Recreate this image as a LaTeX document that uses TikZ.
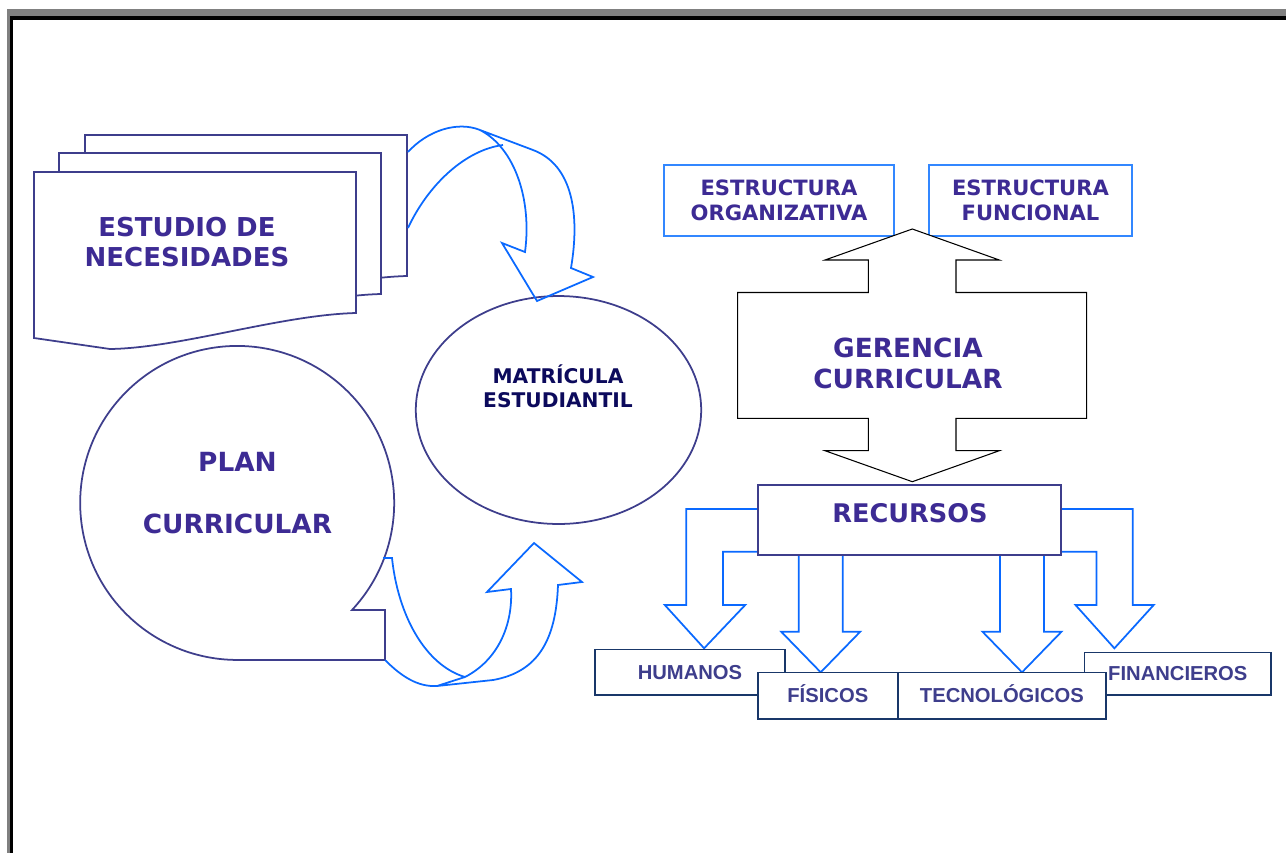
\documentclass[tikz,border=0pt]{standalone}
\usepackage{fontspec}
\setmainfont{DejaVu Sans}
\newfontfamily\arialfont{Liberation Sans}
\usetikzlibrary{shapes.geometric}

\definecolor{titlepurple}{RGB}{61,43,148}
\definecolor{navytext}{RGB}{12,10,92}
\definecolor{shapeline}{RGB}{62,62,140}
\definecolor{arrowblue}{RGB}{10,105,255}
\definecolor{boxblue}{RGB}{50,135,255}
\definecolor{lowline}{RGB}{25,55,105}
\definecolor{lowtext}{RGB}{62,62,140}
\definecolor{framegray}{RGB}{128,128,128}

\begin{document}
\begin{tikzpicture}[x=0.02cm, y=-0.02cm,
		page_style/.style={draw=shapeline, line width=1pt, fill=white},
		block_arrow/.style={draw=arrowblue, line width=1pt, line join=miter},
		fat_arrow/.style={draw=black, line width=0.6pt, fill=white},
		title_text/.style={font=\bfseries\fontsize{14.8}{17}\selectfont, text=titlepurple, align=center, inner sep=0pt},
		struct_box/.style={draw=boxblue, line width=1.1pt, fill=white, align=center, inner sep=0pt, text=titlepurple, font=\bfseries\fontsize{12}{14.7}\selectfont},
		res_box/.style={draw=lowline, line width=1pt, fill=white, inner sep=0pt, text=lowtext, font=\arialfont\bfseries\fontsize{11.5}{13}\selectfont, text height=8.2pt, text depth=0pt}]

		\useasboundingbox (0,0) rectangle (1286,853);

		\fill[framegray] (7,9) rectangle (1286,16);
		\fill[framegray] (7,9) rectangle (9.5,853);
		\fill[black] (9.5,16) rectangle (1286,20);
		\fill[black] (9.5,16) rectangle (13,853);

		\foreach \dx/\dy in {51/-37, 25/-19, 0/0}
			\draw[page_style, shift={(\dx,\dy)}] (34,172) -- (356,172) -- (356,313) .. controls (280,315) and (180,348) .. (110,349) -- (34,338) -- cycle;
		\node[title_text] (estudio) at (187,242) {ESTUDIO DE\\NECESIDADES};

		\node[draw=shapeline, line width=1pt, ellipse, minimum width=5.71cm, minimum height=4.56cm] (matricula_shape) at (558.5,410) {};
		\node[font=\bfseries\fontsize{11.5}{13.6}\selectfont, text=navytext, align=center, inner sep=0pt] (matricula) at (558,386) {MATRÍCULA\\ESTUDIANTIL};

		\draw[block_arrow] (408,152) .. controls (428,130) and (458,121) .. (480,130) .. controls (515,148) and (532,200) .. (525,252) -- (502,243) -- (537,301) -- (593,277) -- (571,268) .. controls (580,215) and (573,165) .. (533,150) -- (480,130);
		\draw[block_arrow] (408,228) .. controls (428,185) and (465,150) .. (503,145);

		\draw[page_style] (385,660) -- (385,610) -- (352,610) arc[start angle=43, end angle=-270, radius=157] -- cycle;
		\node[title_text, font=\bfseries\fontsize{15}{35.3}\selectfont] (plan) at (237.5,493) {PLAN\\CURRICULAR};

		\draw[block_arrow] (383,558) -- (392,558) .. controls (398,615) and (425,665) .. (465,677);
		\draw[block_arrow] (385,660) .. controls (402,677) and (418,687) .. (437,686) -- (465,677) .. controls (498,660) and (513,625) .. (511,589) -- (487,592) -- (534,543) -- (582,582) -- (558,585) .. controls (556,640) and (538,672) .. (493,680) -- (437,686);

		\node[struct_box, minimum width=4.6cm, minimum height=1.41cm] (organizativa) at (779,200.4) {ESTRUCTURA\\ORGANIZATIVA};
		\node[struct_box, minimum width=4.05cm, minimum height=1.41cm] (funcional) at (1030.5,200.4) {ESTRUCTURA\\FUNCIONAL};

		\draw[fat_arrow] (912.3,229) -- (999.3,260) -- (956,260) -- (956,292.5) -- (1086.7,292.5) -- (1086.7,418.3) -- (956,418.3) -- (956,450.7) -- (999.3,450.7) -- (912.3,481.7) -- (825,450.7) -- (868.3,450.7) -- (868.3,418.3) -- (737.7,418.3) -- (737.7,292.5) -- (868.3,292.5) -- (868.3,260) -- (825,260) -- cycle;
		\node[title_text, font=\bfseries\fontsize{15}{17.6}\selectfont] (gerencia) at (908,363) {GERENCIA\\CURRICULAR};

		\draw[block_arrow] (757.7,509) -- (686.3,509) -- (686.3,605) -- (664.8,605) -- (704.1,648.3) -- (745.2,605) -- (722.9,605) -- (722.9,551.7) -- (757.7,551.7);
		\draw[block_arrow] (1061.2,509) -- (1132.7,509) -- (1132.7,605) -- (1153.7,605) -- (1114.4,648.3) -- (1075.5,605) -- (1096.5,605) -- (1096.5,551.7) -- (1061.2,551.7);
		\foreach \cx in {820.7, 1022}
			\draw[block_arrow] (\cx-22,555) -- (\cx-22,631.7) -- (\cx-39.5,631.7) -- (\cx,672.3) -- (\cx+39.5,631.7) -- (\cx+22,631.7) -- (\cx+22,555);

		\node[draw=shapeline, line width=1pt, fill=white, minimum width=6.07cm, minimum height=1.4cm] (recursos_box) at (909.5,520) {};
		\node[title_text, font=\bfseries\fontsize{14.6}{17}\selectfont] (recursos) at (910,513) {RECURSOS};

		\node[res_box, minimum width=3.81cm, minimum height=0.91cm] (humanos) at (690,672.2) {HUMANOS};
		\node[res_box, minimum width=3.73cm, minimum height=0.85cm] (financieros) at (1177.8,673.7) {FINANCIEROS};
		\node[res_box, minimum width=2.80cm, minimum height=0.93cm] (fisicos) at (827.8,695.7) {FÍSICOS};
		\node[res_box, minimum width=4.16cm, minimum height=0.93cm] (tecnologicos) at (1001.9,695.7) {TECNOLÓGICOS};

\end{tikzpicture}
\end{document}
